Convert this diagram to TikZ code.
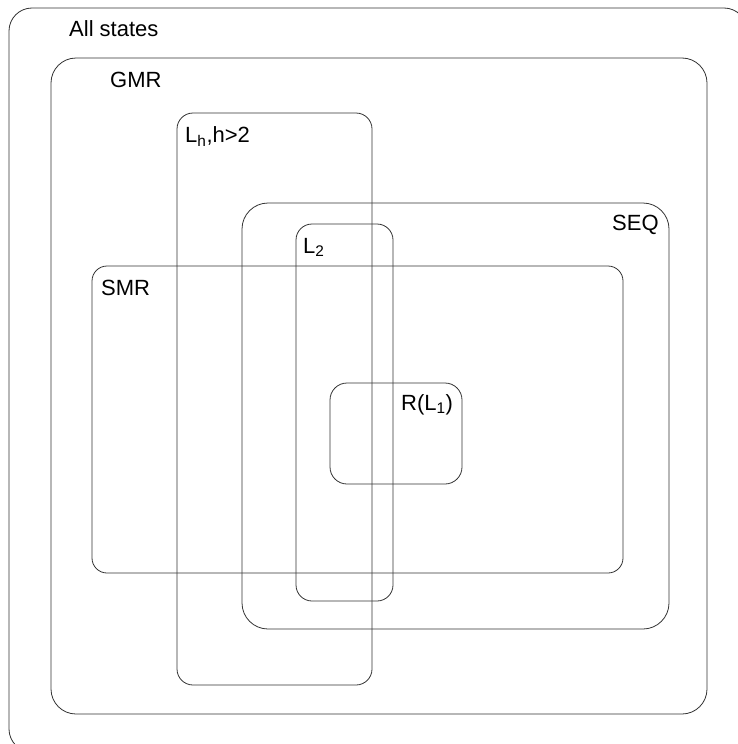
\documentclass[tikz,border=0pt]{standalone}
\usepackage{fontspec}
\setmainfont{Liberation Sans}

\begin{document}
\begin{tikzpicture}[x=1pt, y=-1pt,
  region/.style={draw=black!80, line width=0.8pt},
  tag/.style={anchor=base west, inner sep=0pt, font=\fontsize{22}{26}\selectfont}]
  %--- canvas (pixel grid of the picture, y downwards)
  \useasboundingbox (0,0) rectangle (738,744);

  %--- nested regions
  \draw[region, rounded corners=23] (9,8) rectangle (747,752);      % all states
  \draw[region, rounded corners=25] (51,58) rectangle (707,714);    % GMR
  \draw[region, rounded corners=16] (177,113) rectangle (372,685);  % L_h
  \draw[region, rounded corners=26] (242,203) rectangle (669,629);  % SEQ
  \draw[region, rounded corners=16] (296,224) rectangle (393,601);  % L_2
  \draw[region, rounded corners=15] (92,266) rectangle (623,573);   % SMR
  \draw[region, rounded corners=17] (330,383) rectangle (462,484);  % R(L_1)

  %--- labels
  \node[tag] (all) at (69,36)   {All states};
  \node[tag] (gmr) at (110,87)  {GMR};
  \node[tag] (lh)  at (185,142) {L\textsubscript{h},h>2};
  \node[tag] (seq) at (612,230) {SEQ};
  \node[tag] (ltw) at (303,253) {L\textsubscript{2}};
  \node[tag] (smr) at (101,295) {SMR};
  \node[tag] (rlo) at (401,410) {R(L\textsubscript{1})};
\end{tikzpicture}
\end{document}
